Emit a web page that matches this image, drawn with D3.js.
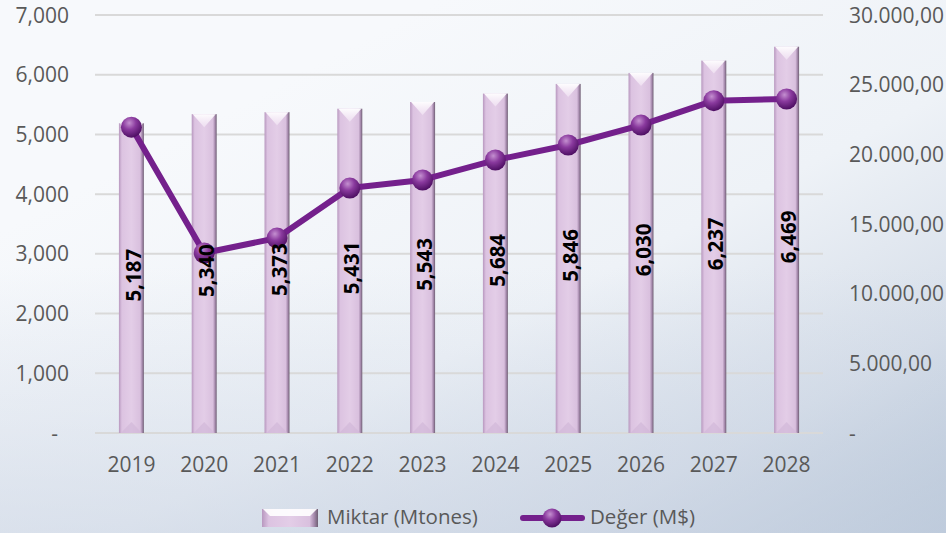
<!DOCTYPE html>
<html><head><meta charset="utf-8">
<script src="https://cdn.jsdelivr.net/npm/d3@7"></script>
<style>html,body{margin:0;padding:0;overflow:hidden}svg{display:block}text{font-family:"Open Sans",sans-serif}</style>
</head><body><svg id="c" width="946" height="533"></svg>
<script>
const years = ["2019","2020","2021","2022","2023","2024","2025","2026","2027","2028"];
const miktar = [5187,5340,5373,5431,5543,5684,5846,6030,6237,6469];
const deger = [21950,12920,13990,17580,18160,19590,20670,22100,23850,23970];
const leftTicks = [0,1000,2000,3000,4000,5000,6000,7000];
const rightTicks = [0,5000,10000,15000,20000,25000,30000];
const seriesNames = ["Miktar (Mtones)","Değer (M$)"];

const svg = d3.select("#c");
const W=946,H=533;
const defs = svg.append("defs");
const bg = defs.append("linearGradient").attr("id","bg").attr("x1","0.25").attr("y1","0.2").attr("x2","1").attr("y2","1");
bg.append("stop").attr("offset","0").attr("stop-color","#f7f9fc");
bg.append("stop").attr("offset","0.45").attr("stop-color","#eef2f7");
bg.append("stop").attr("offset","0.75").attr("stop-color","#d6dee9");
bg.append("stop").attr("offset","1").attr("stop-color","#b3c3d5");
svg.append("rect").attr("width",W).attr("height",H).attr("fill","url(#bg)");
const bg2 = defs.append("linearGradient").attr("id","bg2").attr("x1","0").attr("y1","0").attr("x2","0").attr("y2","1");
bg2.append("stop").attr("offset","0.5").attr("stop-color","#c8d2e2").attr("stop-opacity",0);
bg2.append("stop").attr("offset","1").attr("stop-color","#c8d2e2").attr("stop-opacity",0.55);
svg.append("rect").attr("width",W).attr("height",H).attr("fill","url(#bg2)");

const barG = defs.append("linearGradient").attr("id","barg").attr("x1","0").attr("x2","1").attr("y1","0").attr("y2","0");
[["0","#b898bf"],["0.12","#dcc3e1"],["0.5","#e3cde7"],["0.85","#d9c0de"],["0.93","#a78bae"],["1","#6f5f74"]].forEach(s=>barG.append("stop").attr("offset",s[0]).attr("stop-color",s[1]));
const topG = defs.append("linearGradient").attr("id","topg").attr("x1","0").attr("x2","0").attr("y1","0").attr("y2","1");
topG.append("stop").attr("offset","0").attr("stop-color","#ffffff").attr("stop-opacity",0.95);
topG.append("stop").attr("offset","1").attr("stop-color","#f3e6f5").attr("stop-opacity",0.7);
const mk = defs.append("radialGradient").attr("id","mk").attr("cx","0.4").attr("cy","0.3").attr("r","0.7");
mk.append("stop").attr("offset","0").attr("stop-color","#c48fd0");
mk.append("stop").attr("offset","0.45").attr("stop-color","#8a3a9e");
mk.append("stop").attr("offset","1").attr("stop-color","#4e0f63");

const x = d3.scaleBand().domain(years).range([95,823]).paddingInner(0.657).paddingOuter(0.3285);
const yL = d3.scaleLinear().domain([0,7000]).range([433,15]);
const yR = d3.scaleLinear().domain([0,30000]).range([433,15]);

// gridlines
svg.append("g").selectAll("line").data(leftTicks).join("line")
 .attr("x1",95).attr("x2",823).attr("y1",d=>yL(d)).attr("y2",d=>yL(d))
 .attr("stroke","#d9d9d9").attr("stroke-width",2);

const fmtL = d=> d===0?"-":d3.format(",")(d);
const fmtR = d=> d===0?"-":d3.format(",.2f")(d).replace(/,/g,"#").replace(".",",").replace(/#/g,".");

svg.append("g").selectAll("text").data(leftTicks).join("text")
 .attr("x",d=>d===0?58:69).attr("y",d=>yL(d)).attr("dy","0.36em").attr("text-anchor","end")
 .attr("font-size",21).attr("fill","#595959").text(fmtL);
svg.append("g").selectAll("text").data(rightTicks).join("text")
 .attr("x",849).attr("y",d=>yR(d)).attr("dy","0.36em").attr("text-anchor","start")
 .attr("font-size",21).attr("fill","#595959").text(fmtR);
svg.append("g").selectAll("text").data(years).join("text")
 .attr("x",d=>x(d)+x.bandwidth()/2).attr("y",472).attr("text-anchor","middle")
 .attr("font-size",21).attr("fill","#595959").text(d=>d);

// bars
const bw = x.bandwidth();
const bars = svg.append("g").selectAll("g").data(years).join("g");
bars.append("rect").attr("x",d=>x(d)).attr("y",(d,i)=>yL(miktar[i])).attr("width",bw)
 .attr("height",(d,i)=>yL(0)-yL(miktar[i])).attr("fill","url(#barg)");
bars.append("path").attr("d",(d,i)=>{const x0=x(d),t=yL(miktar[i]);return `M${x0+1},${t}L${x0+bw-1},${t}L${x0+bw/2},${t+13}Z`;})
 .attr("fill","url(#topg)");
bars.append("path").attr("d",(d,i)=>{const x0=x(d),b=yL(0);return `M${x0+2},${b}L${x0+bw-2},${b}L${x0+bw/2},${b-11}Z`;})
 .attr("fill","#d2b8d8").attr("opacity",0.7);

// line
const line = d3.line().x((d,i)=>x(years[i])+bw/2).y(d=>yR(d));
svg.append("path").datum(deger).attr("d",line).attr("fill","none").attr("stroke","#74208c").attr("stroke-width",6).attr("stroke-linejoin","round");
svg.append("g").selectAll("circle").data(deger).join("circle")
 .attr("cx",(d,i)=>x(years[i])+bw/2).attr("cy",d=>yR(d)).attr("r",10.5).attr("fill","url(#mk)");

// labels
svg.append("g").selectAll("text").data(miktar).join("text")
 .attr("transform",(d,i)=>`translate(${x(years[i])+bw/2+9.5},${(yL(d)+yL(0))/2-3}) rotate(-90)`)
 .attr("text-anchor","middle").attr("font-size",20.5).attr("font-weight","bold").attr("fill","#000")
 .text(d=>d3.format(",")(d));

// legend
const lg = svg.append("g");
lg.append("rect").attr("x",262).attr("y",509).attr("width",56).attr("height",18).attr("fill","url(#barg)");
lg.append("path").attr("d","M263,509L317,509L310,516L270,516Z").attr("fill","#ffffff").attr("opacity",0.9);
lg.append("text").attr("x",327).attr("y",524).attr("font-size",20.5).attr("fill","#595959").text(seriesNames[0]);
lg.append("line").attr("x1",523).attr("x2",582).attr("y1",518).attr("y2",518).attr("stroke","#74208c").attr("stroke-width",6).attr("stroke-linecap","round");
lg.append("circle").attr("cx",552).attr("cy",518).attr("r",9.5).attr("fill","url(#mk)");
lg.append("text").attr("x",590).attr("y",524).attr("font-size",20.5).attr("fill","#595959").text(seriesNames[1]);
</script></body></html>
